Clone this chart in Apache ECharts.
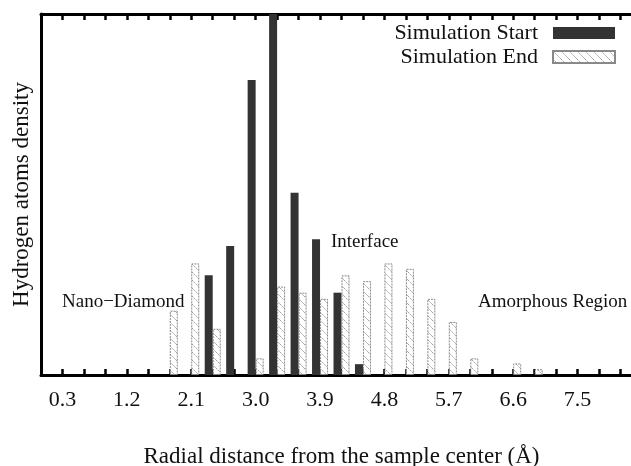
<!DOCTYPE html>
<html>
<head>
<meta charset="utf-8">
<script src="https://cdn.jsdelivr.net/npm/echarts@6/dist/echarts.min.js"></script>
<style>
  html, body { margin: 0; padding: 0; background: #fff; }
</style>
</head>
<body>
<div id="chart" style="width:631px;height:466px"></div>
<script>
// radial bins (Å), every 0.3
const radius = ['0.0', '0.3', '0.6', '0.9', '1.2', '1.5', '1.8', '2.1', '2.4', '2.7',
  '3.0', '3.3', '3.6', '3.9', '4.2', '4.5', '4.8', '5.1', '5.4', '5.7',
  '6.0', '6.3', '6.6', '6.9', '7.2', '7.5', '7.8', '8.1', '8.4']

// hydrogen density, arbitrary units (top of the frame = 100), '-' = empty bin
const simStart = ['-', '-', '-', '-', '-', '-', '-', '-', 27.6, 35.7,
  81.7, 110, 50.5, 37.6, 22.8, 3.0, '-', '-', '-', '-',
  '-', '-', '-', '-', '-', '-', '-', '-', '-']
const simEnd = ['-', '-', '-', '-', '-', '-', 17.8, 30.9, 12.8, '-',
  4.6, 24.5, 22.8, 21.1, 27.6, 26.0, 30.9, 29.4, 21.1, 14.7,
  4.6, '-', 3.2, 1.6, '-', '-', '-', '-', '-']

const seriesNames = ['Simulation Start', 'Simulation End']
const serif = '"Liberation Serif", "DejaVu Serif", serif'

// hatch pattern for the end bars
const hatch = document.createElement('canvas')
hatch.width = 8
hatch.height = 8
const hc = hatch.getContext('2d')
hc.fillStyle = '#fff'
hc.fillRect(0, 0, 8, 8)
hc.strokeStyle = '#a0a0a0'
hc.lineWidth = 1
hc.setLineDash([2, 1])
hc.beginPath()
hc.moveTo(0, 0)
hc.lineTo(8, 8)
hc.stroke()

const tickStyle = { show: true, inside: true, length: 6, interval: 0, lineStyle: { color: '#000', width: 2.5 } }

const myChart = echarts.init(document.getElementById('chart'))
myChart.setOption({
  animation: false,
  grid: {
    left: 41,
    top: 14,
    right: -11,
    bottom: 91,
    outerBoundsMode: 'none'
  },
  legend: {
    data: seriesNames,
    orient: 'vertical',
    align: 'right',
    icon: 'rect',
    right: 15,
    top: 22,
    padding: 0,
    itemWidth: 62,
    itemHeight: 12,
    itemGap: 2,
    textStyle: {
      fontFamily: serif,
      fontSize: 22,
      color: '#111',
      padding: [0, 10, 0, 0]
    }
  },
  xAxis: [{
    type: 'category',
    data: radius,
    boundaryGap: false,
    name: 'Radial distance from the sample center (Å)',
    nameLocation: 'middle',
    nameGap: 70,
    nameTextStyle: { fontFamily: serif, fontSize: 23, color: '#111' },
    axisLine: { lineStyle: { color: '#000', width: 3 } },
    axisTick: tickStyle,
    axisLabel: {
      interval: (i) => i % 3 === 1 && i < 27,
      margin: 14,
      fontFamily: serif,
      fontSize: 22,
      color: '#111'
    },
    splitLine: { show: false }
  }, {
    type: 'category',
    data: radius,
    boundaryGap: false,
    position: 'top',
    axisLine: { lineStyle: { color: '#000', width: 3 } },
    axisTick: tickStyle,
    axisLabel: { show: false },
    splitLine: { show: false }
  }],
  yAxis: {
    type: 'value',
    min: 0,
    max: 100,
    name: 'Hydrogen atoms density',
    nameLocation: 'middle',
    nameGap: 8,
    nameTextStyle: { fontFamily: serif, fontSize: 23, color: '#111' },
    axisLine: { show: true, lineStyle: { color: '#000', width: 3 } },
    axisTick: { show: false },
    axisLabel: { show: false },
    splitLine: { show: false }
  },
  graphic: [
    { type: 'text', x: 62, y: 302, style: { text: 'Nano\u2212Diamond', font: '19px ' + serif, fill: '#111', textVerticalAlign: 'middle' } },
    { type: 'text', x: 331, y: 242, style: { text: 'Interface', font: '19px ' + serif, fill: '#111', textVerticalAlign: 'middle' } },
    { type: 'text', x: 478, y: 302, style: { text: 'Amorphous Region', font: '19px ' + serif, fill: '#111', textVerticalAlign: 'middle' } }
  ],
  series: [
    {
      name: seriesNames[0],
      type: 'bar',
      barWidth: 8,
      barGap: '0%',
      z: 1,
      itemStyle: { color: '#333' },
      data: simStart
    },
    {
      name: seriesNames[1],
      type: 'bar',
      barWidth: 8,
      barGap: '0%',
      z: 1,
      itemStyle: {
        color: { image: hatch, repeat: 'repeat' },
        borderColor: '#888',
        borderWidth: 1,
        borderType: [2, 1]
      },
      data: simEnd
    }
  ]
})
</script>
</body>
</html>
